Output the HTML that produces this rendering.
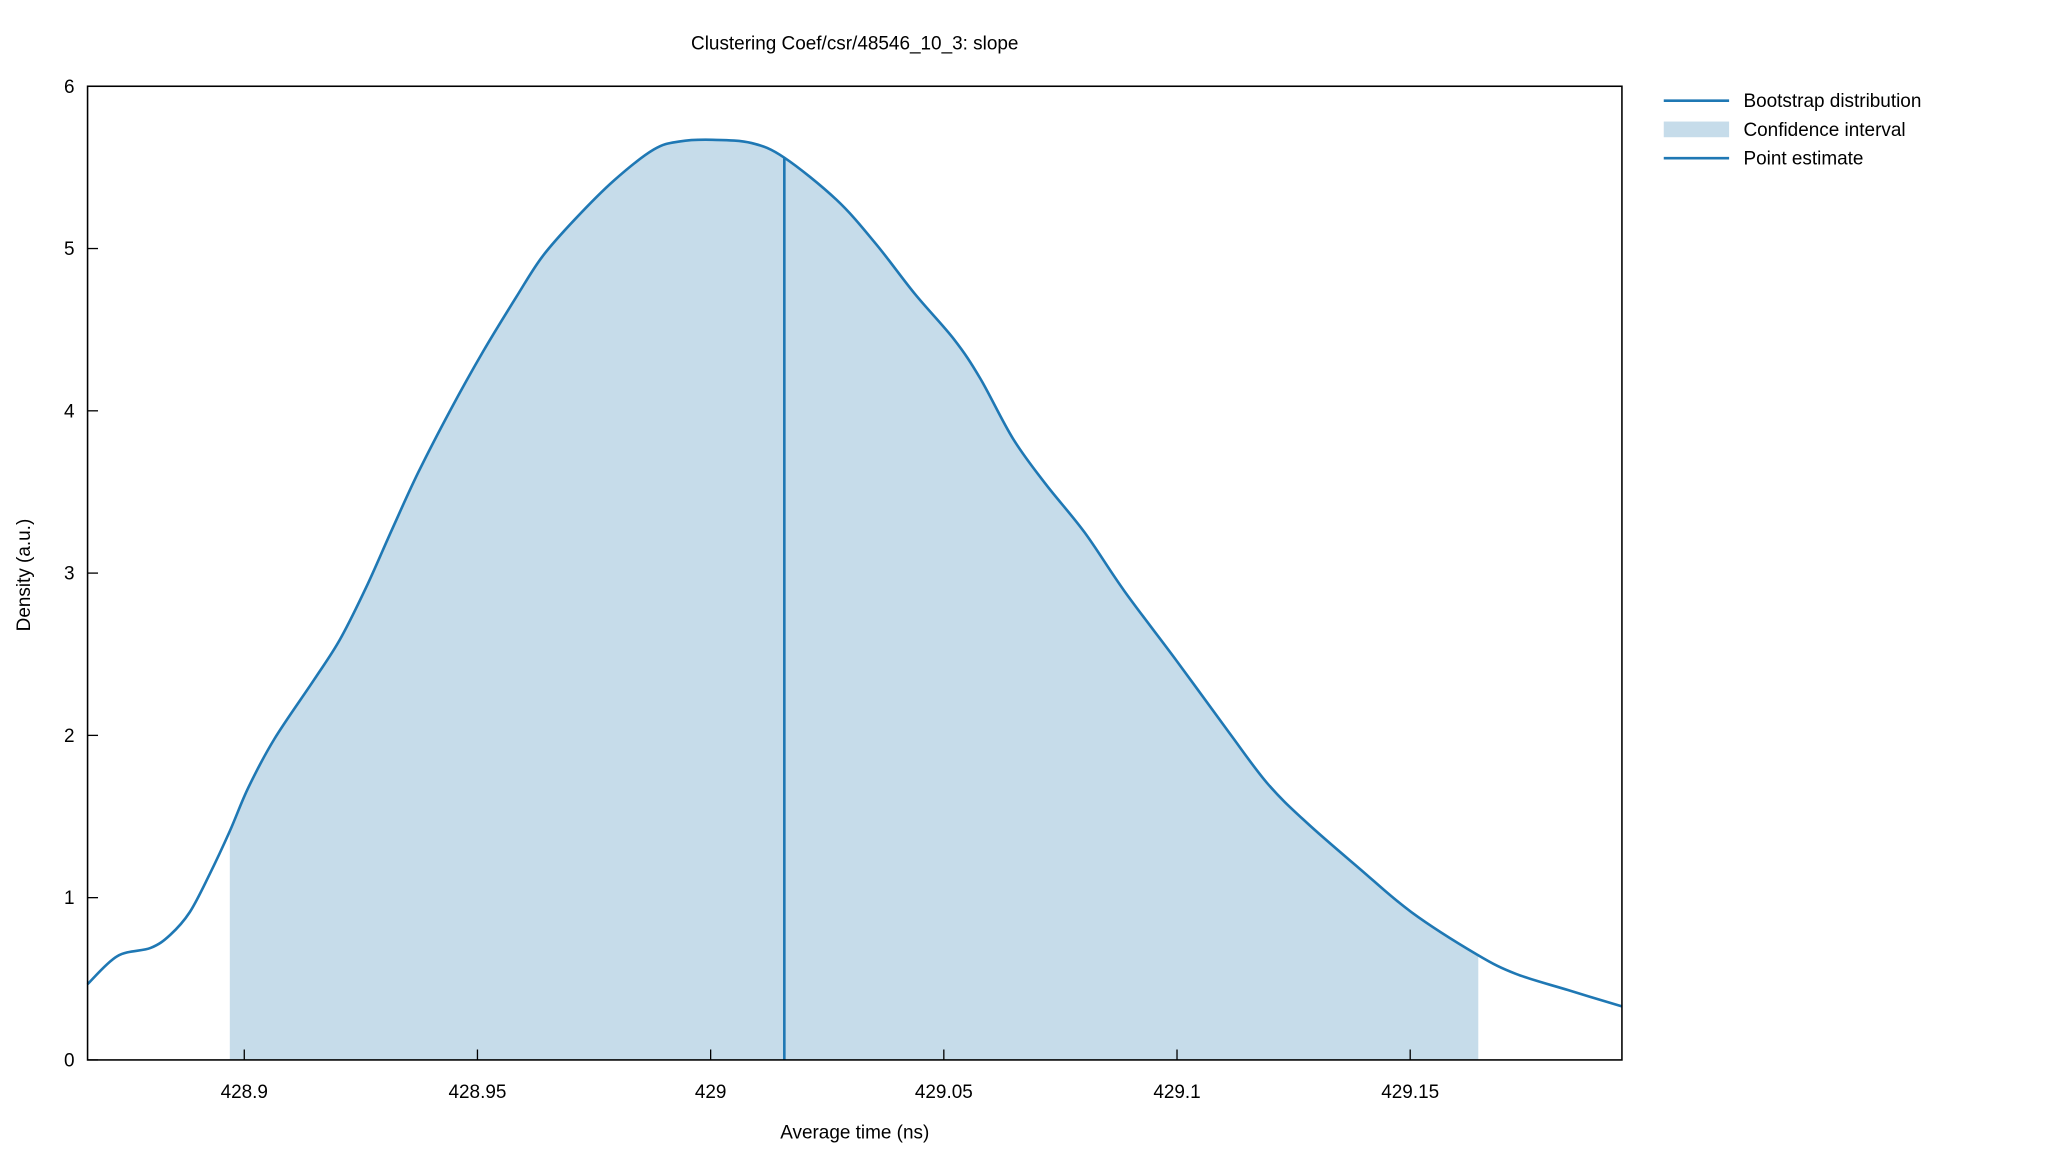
<!DOCTYPE html>
<html><head><meta charset="utf-8"><style>
html,body{margin:0;padding:0;background:#fff;}
svg{display:block;font-family:"Liberation Sans",sans-serif;}
</style></head><body>
<svg id="chart" width="2048" height="1152" viewBox="0 0 1567 881.44" preserveAspectRatio="none">
<rect width="1567" height="882" fill="#fff"/>
<text x="654" y="38" font-size="14.5" text-anchor="middle">Clustering Coef/csr/48546_10_3: slope</text>
<g id="plot"></g>
<rect x="67" y="66" width="1174" height="745" fill="none" stroke="#000" stroke-width="1.2"/>
<g id="axes"></g>
<text x="654" y="871" font-size="14.5" text-anchor="middle">Average time (ns)</text>
<text transform="translate(23,440) rotate(-90)" font-size="14.5" text-anchor="middle">Density (a.u.)</text>
<g>
<line x1="1273" y1="77" x2="1323" y2="77" stroke="#1f78b4" stroke-width="2"/>
<text x="1334" y="82" font-size="14.5">Bootstrap distribution</text>
<rect x="1273" y="93" width="50" height="12" fill="#c6dcea"/>
<text x="1334" y="104" font-size="14.5">Confidence interval</text>
<line x1="1273" y1="121" x2="1323" y2="121" stroke="#1f78b4" stroke-width="2"/>
<text x="1334" y="126" font-size="14.5">Point estimate</text>
</g>
</svg>
<script>
const xs=[428.8664,428.8728,428.8799,428.8841,428.8883,428.8925,428.8969,428.9009,428.9065,428.9149,428.9205,428.9261,428.9317,428.9373,428.9443,428.9513,428.9583,428.9639,428.9709,428.9793,428.9878,428.9934,429.0004,429.0088,429.0158,429.0270,429.0354,429.0438,429.0522,429.0578,429.0648,429.0718,429.0802,429.0887,429.0999,429.1111,429.1195,429.1279,429.1391,429.1503,429.1643,429.1727,429.1839,429.1954];
const ys=[0.467,0.64,0.69,0.77,0.91,1.14,1.41,1.68,1.98,2.34,2.59,2.91,3.27,3.62,4.01,4.37,4.70,4.95,5.18,5.42,5.61,5.66,5.67,5.65,5.56,5.30,5.03,4.72,4.44,4.20,3.83,3.55,3.25,2.89,2.46,2.02,1.70,1.46,1.18,0.91,0.65,0.53,0.43,0.33];
const ciLow=428.8969, ciHigh=429.1646, pointEst=429.0158;
const xTicks=[428.9,428.95,429,429.05,429.1,429.15];
const xTickLabels=["428.9","428.95","429","429.05","429.1","429.15"];
const yTicks=[0,1,2,3,4,5,6];
const X0=67,X1=1241,Y0=811,Y1=66,xmin=428.8664,xmax=429.1954,ymin=0,ymax=6;
const sx=v=>X0+(v-xmin)/(xmax-xmin)*(X1-X0);
const sy=v=>Y0-(v-ymin)/(ymax-ymin)*(Y0-Y1);
function interp(v){for(let i=0;i<xs.length-1;i++){if(v>=xs[i]&&v<=xs[i+1]){const t=(v-xs[i])/(xs[i+1]-xs[i]);return ys[i]+t*(ys[i+1]-ys[i]);}}return ys[ys.length-1];}
function smooth(pts){let d=`M${pts[0][0]},${pts[0][1]}`;for(let i=0;i<pts.length-1;i++){const p0=pts[Math.max(0,i-1)],p1=pts[i],p2=pts[i+1],p3=pts[Math.min(pts.length-1,i+2)];const c1=[p1[0]+(p2[0]-p0[0])/6,p1[1]+(p2[1]-p0[1])/6],c2=[p2[0]-(p3[0]-p1[0])/6,p2[1]-(p3[1]-p1[1])/6];d+=` C${c1[0]},${c1[1]} ${c2[0]},${c2[1]} ${p2[0]},${p2[1]}`;}return d;}
const NS="http://www.w3.org/2000/svg";
const plot=document.getElementById('plot'),axes=document.getElementById('axes');
function mk(t,a,p){const e=document.createElementNS(NS,t);for(const k in a)e.setAttribute(k,a[k]);p.appendChild(e);return e;}
const ciPts=[[sx(ciLow),sy(interp(ciLow))]];
xs.forEach((x,i)=>{if(x>ciLow+1e-6&&x<ciHigh)ciPts.push([sx(x),sy(ys[i])]);});
ciPts.push([sx(ciHigh),sy(interp(ciHigh))]);
let d=smooth(ciPts)+` L${sx(ciHigh)},${sy(0)} L${sx(ciLow)},${sy(0)} Z`;
const ci=mk('path',{d:d,fill:'#c6dcea'},plot);


const curve=mk('path',{d:smooth(xs.map((x,i)=>[sx(x),sy(ys[i])])),fill:'none',stroke:'#1f78b4','stroke-width':2,'stroke-linejoin':'round'},plot);


const pe=mk('line',{x1:sx(pointEst),x2:sx(pointEst),y1:sy(0),y2:sy(interp(pointEst)),stroke:'#1f78b4','stroke-width':2},plot);


xTicks.forEach((v,i)=>{
 const tk=mk('line',{x1:sx(v),x2:sx(v),y1:Y0,y2:Y0-8,stroke:'#000'},axes);
 
 
 const t=mk('text',{x:sx(v),y:Y0+29,'font-size':14.5,'text-anchor':'middle'},axes);t.textContent=xTickLabels[i];
 
 
});
yTicks.forEach(v=>{
 const tk=mk('line',{x1:X0,x2:X0+8,y1:sy(v),y2:sy(v),stroke:'#000'},axes);
 
 
 const t=mk('text',{x:X0-10,y:sy(v)+5,'font-size':14.5,'text-anchor':'end'},axes);t.textContent=String(v);
 
 
});
</script>
</body></html>
